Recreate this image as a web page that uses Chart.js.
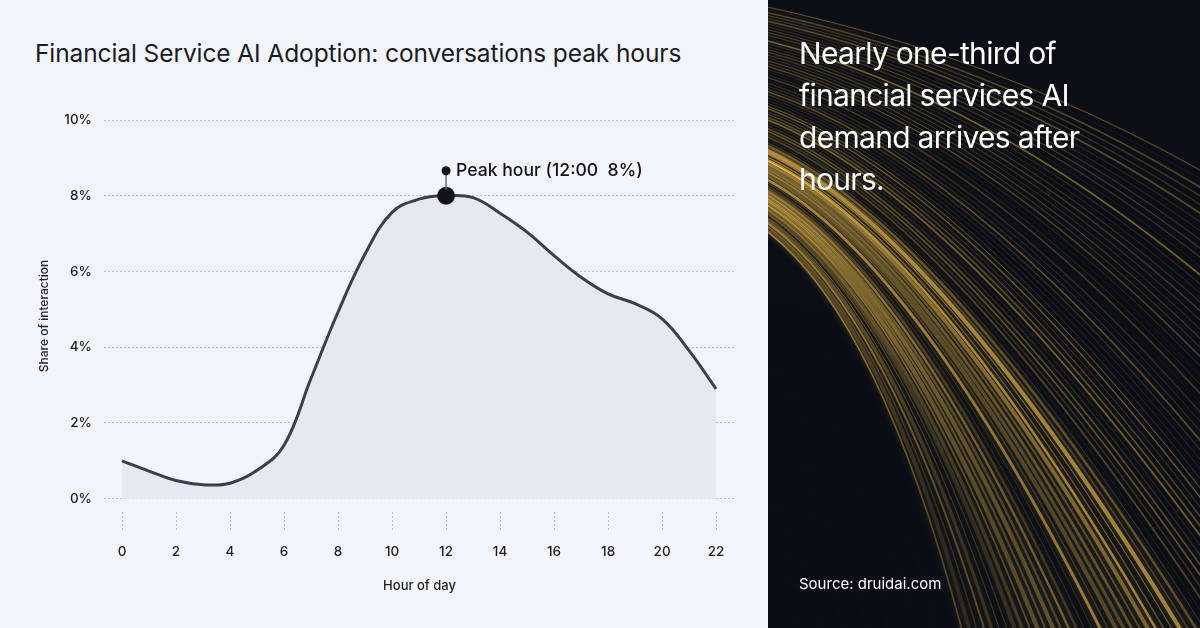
<!DOCTYPE html>
<html>
<head>
<meta charset="utf-8">
<script src="https://cdn.jsdelivr.net/npm/chart.js@4.4.1/dist/chart.umd.min.js"></script>
<style>
html, body { margin: 0; padding: 0; }
body { width: 1200px; height: 628px; position: relative; overflow: hidden; background: #f3f5fc; font-family: Inter, sans-serif; }
#left { position: absolute; left: 0; top: 0; width: 768px; height: 628px; background: #f3f5fc; }
#title { position: absolute; left: 35px; top: 38px; font-size: 24.5px; line-height: 30px; color: #1b1c22; letter-spacing: -0.1px; white-space: nowrap; }
#chartBox { position: absolute; left: 0; top: 0; width: 768px; height: 628px; }
#right { position: absolute; left: 768px; top: 0; width: 432px; height: 628px; background: #0b0e16; overflow: hidden; }
#streaks { position: absolute; left: 0; top: 0; }
#headline { position: absolute; left: 31px; top: 32px; font-size: 30px; line-height: 42px; color: #fff; letter-spacing: -0.7px; }
#source { position: absolute; left: 31px; top: 574px; font-size: 15px; line-height: 20px; color: #fff; }
</style>
</head>
<body>
<div id="left">
  <div id="title">Financial Service AI Adoption: conversations peak hours</div>
  <div id="chartBox"><canvas id="peakChart" width="768" height="628"></canvas></div>
</div>
<div id="right">
  <canvas id="streaks" width="432" height="628"></canvas>
  <div id="headline">Nearly one-third of<br>financial services AI<br>demand arrives after<br>hours.</div>
  <div id="source">Source: druidai.com</div>
</div>
<script>
// hourly share of conversations (%)
const hours = [0, 1, 2, 3, 4, 5, 6, 7, 8, 9, 10, 11, 12, 13, 14, 15, 16, 17, 18, 19, 20, 21, 22];
const share = [1.0, 0.73, 0.48, 0.37, 0.41, 0.75, 1.41, 3.18, 4.93, 6.46, 7.56, 7.91, 8.0, 7.95, 7.54, 7.04, 6.42, 5.85, 5.41, 5.15, 4.75, 3.91, 2.9];
const xTicks = [0, 2, 4, 6, 8, 10, 12, 14, 16, 18, 20, 22];
const yTicks = [0, 2, 4, 6, 8, 10];
const peakHour = 12;
const peakLabel = 'Peak hour (12:00  8%)';

const peakIndex = hours.indexOf(peakHour);

// stem + label above the peak point
const peakPlugin = {
    id: 'peakNote',
    afterDatasetsDraw(chart) {
        const pt = chart.getDatasetMeta(0).data[peakIndex];
        if (!pt) return;
        const c = chart.ctx;
        const top = pt.y - 25;
        c.save();
        c.strokeStyle = '#6b6e78';
        c.lineWidth = 1.5;
        c.beginPath();
        c.moveTo(pt.x, pt.y - 6);
        c.lineTo(pt.x, top);
        c.stroke();
        c.fillStyle = '#111318';
        c.beginPath();
        c.arc(pt.x, top, 4.5, 0, Math.PI * 2);
        c.fill();
        c.font = '500 17.6px Inter';
        c.textBaseline = 'middle';
        c.fillText(peakLabel, pt.x + 10, top);
        c.restore();
    }
};

Chart.defaults.font.family = 'Inter';
Chart.defaults.color = '#1f2027';

const ctx = document.getElementById('peakChart').getContext('2d');
window.myChart = new Chart(ctx, {
    type: 'line',
    data: {
        datasets: [{
            label: 'Share of interaction',
            data: hours.map((h, i) => ({ x: h, y: share[i] })),
            borderColor: '#3b3f4c',
            borderWidth: 3,
            backgroundColor: '#e6e9f2',
            fill: 'origin',
            tension: 0.4,
            pointRadius: c => c.dataIndex === peakIndex ? 9 : 0,
            pointHoverRadius: c => c.dataIndex === peakIndex ? 9 : 0,
            pointBackgroundColor: '#111318',
            pointBorderWidth: 0
        }]
    },
    options: {
        responsive: false,
        animation: false,
        layout: { padding: { left: 37, right: 33, top: 120, bottom: 34 } },
        plugins: {
            legend: { display: false },
            tooltip: { enabled: false }
        },
        scales: {
            x: {
                type: 'linear',
                min: -0.667,
                max: 22.7,
                afterBuildTicks: s => { s.ticks = xTicks.map(v => ({ value: v })); },
                afterFit: s => { s.height = 82; },
                grid: {
                    drawOnChartArea: false,
                    drawTicks: true,
                    tickLength: 18,
                    tickColor: '#b9bdc7',
                    tickWidth: 1,
                    tickBorderDash: [2, 2]
                },
                border: { display: false },
                ticks: { padding: 14, font: { size: 13.5, weight: 500 }, color: '#1f2027' },
                title: { display: true, text: 'Hour of day', font: { size: 13, weight: 500 }, color: '#1f2027', padding: { top: 8, bottom: 0 } }
            },
            y: {
                min: -0.35,
                max: 10,
                afterBuildTicks: s => { s.ticks = yTicks.map(v => ({ value: v })); },
                afterFit: s => { s.width = 67; },
                grid: { color: '#bcc0c9', lineWidth: 1, drawTicks: false },
                border: { display: false, dash: [2, 2] },
                ticks: { padding: 12, font: { size: 13.5, weight: 500 }, color: '#1f2027', callback: v => v + '%' },
                title: { display: true, text: 'Share of interaction', font: { size: 12, weight: 500 }, color: '#1f2027', padding: 0 }
            }
        }
    },
    plugins: [peakPlugin]
});

// decorative gold light streaks for the right panel
(function () {
    const g = document.getElementById('streaks').getContext('2d');
    const lerp = (a, b, t) => a + (b - a) * t;
    const hash = i => { const s = Math.sin(i * 12.9898) * 43758.5453; return s - Math.floor(s); };
    g.globalCompositeOperation = 'lighter';
    const n = 80;
    for (let i = 0; i < n; i++) {
        const t = i / (n - 1);
        const h = hash(i + 1);
        const y0 = lerp(5, 225, t);
        const c1x = lerp(300, 130, t), c1y = lerp(70, 320, t);
        let ex, ey;
        if (t < 0.55) { ex = 560; ey = lerp(250, 760, t / 0.55); }
        else { ex = lerp(560, 225, (t - 0.55) / 0.45); ey = 760; }
        const lower = t > 0.6;
        const a = lower ? 0.22 + 0.5 * h : 0.1 + 0.35 * h;
        g.lineWidth = lower ? 0.8 + 3.4 * hash(i + 50) : 0.5 + 1.2 * hash(i + 50);
        g.strokeStyle = 'rgba(200,164,72,' + a.toFixed(3) + ')';
        g.shadowColor = 'rgba(190,150,60,0.6)';
        g.shadowBlur = lower ? 6 : 2;
        g.beginPath();
        g.moveTo(-10, y0);
        g.quadraticCurveTo(c1x, c1y, ex, ey);
        g.stroke();
    }
    g.globalCompositeOperation = 'source-over';
    g.shadowBlur = 0;
    const v = g.createRadialGradient(0, 628, 20, 0, 628, 320);
    v.addColorStop(0, 'rgba(11,14,22,0.95)');
    v.addColorStop(1, 'rgba(11,14,22,0)');
    g.fillStyle = v;
    g.fillRect(0, 0, 432, 628);
})();
</script>
</body>
</html>
